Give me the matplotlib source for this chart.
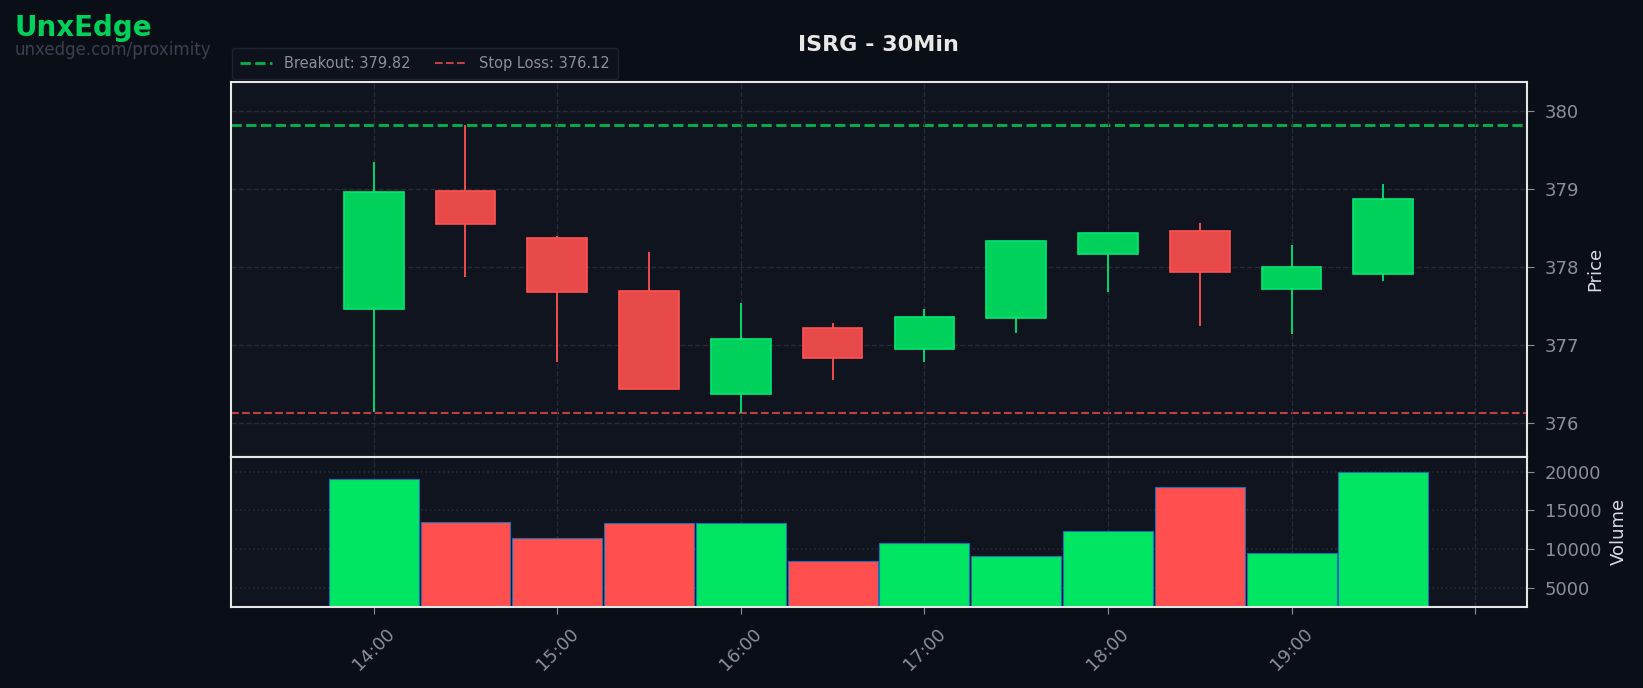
import matplotlib
matplotlib.use("Agg")
import matplotlib.pyplot as plt
import numpy as np

# 30 minute candles, ISRG
times = ["14:00", "14:30", "15:00", "15:30", "16:00", "16:30",
         "17:00", "17:30", "18:00", "18:30", "19:00", "19:30"]
opens = [377.46, 378.97, 378.36, 377.68, 376.36, 377.21,
         376.94, 377.34, 378.16, 378.45, 377.71, 377.90]
highs = [379.34, 379.81, 378.39, 378.19, 377.53, 377.27,
         377.46, 378.33, 378.43, 378.56, 378.27, 379.06]
lows = [376.14, 377.87, 376.77, 376.43, 376.12, 376.55,
        376.77, 377.15, 377.67, 377.24, 377.13, 377.81]
closes = [378.95, 378.55, 377.67, 376.43, 377.07, 376.83,
          377.35, 378.33, 378.43, 377.93, 377.99, 378.86]
volumes = [19050, 13480, 11400, 13350, 13350, 8420,
           10750, 9070, 12350, 18020, 9450, 19960]

breakout = 379.82
stop_loss = 376.12

BG = "#0a0e16"
PANEL = "#10141f"
GREEN_BODY = "#00d15a"
GREEN_EDGE = "#00e676"
RED_BODY = "#e84a4a"
RED_EDGE = "#ff5252"
TICK = "#8a8f99"
GRID = "#262b38"

fig = plt.figure(figsize=(16.43, 6.88), dpi=100, facecolor=BG)
ax = fig.add_axes([0.1403, 0.3360, 0.7888, 0.5453])
axv = fig.add_axes([0.1403, 0.1182, 0.7888, 0.2178], sharex=ax)

x = np.arange(len(times))
up = [c >= o for o, c in zip(opens, closes)]

#  Candles
for i in range(len(times)):
    body_c = GREEN_BODY if up[i] else RED_BODY
    edge_c = GREEN_EDGE if up[i] else RED_EDGE
    ax.vlines(x[i], lows[i], highs[i], color=edge_c, lw=1.3, zorder=2)
    lo = min(opens[i], closes[i])
    ax.bar(x[i], abs(closes[i] - opens[i]), bottom=lo, width=0.65,
           color=body_c, edgecolor=edge_c, linewidth=1.2, zorder=3)

ax.axhline(breakout, color="#00c853", ls="--", lw=2, alpha=0.9,
           label=f"Breakout: {breakout:.2f}", zorder=1)
ax.axhline(stop_loss, color="#e04848", ls="--", lw=1.5, alpha=0.85,
           label=f"Stop Loss: {stop_loss:.2f}", zorder=1)

#  Volume
vol_colors = ["#00e663" if u else "#ff4f4f" for u in up]
axv.bar(x, volumes, width=0.98, color=vol_colors, edgecolor="#1f6fb4",
        linewidth=0.8, zorder=2)

for a in (ax, axv):
    a.set_facecolor(PANEL)
    for s in a.spines.values():
        s.set_color("#e6e6e6")
        s.set_linewidth(1.5)
    a.yaxis.tick_right()
    a.yaxis.set_label_position("right")
    a.tick_params(colors=TICK, labelsize=13, length=5, pad=8)

ax.set_ylim(375.56, 380.37)
ax.set_yticks([376, 377, 378, 379, 380])
ax.set_xlim(-1.56, 12.56)
ax.grid(True, color=GRID, ls="--", lw=1)
ax.tick_params(axis="x", labelbottom=False)
ax.set_ylabel("Price", color="#d8dbe2", fontsize=13, labelpad=5)

axv.set_ylim(min(volumes) * 0.3, max(volumes) * 1.1)
axv.set_yticks([5000, 10000, 15000, 20000])
axv.grid(True, axis="y", color=GRID, ls=":", lw=1.2)
axv.grid(True, axis="x", color=GRID, ls="--", lw=1)
axv.set_ylabel("Volume", color="#d8dbe2", fontsize=13, labelpad=6)

tick_pos = list(range(0, 13, 2))
tick_lbl = times[::2] + [""]
axv.set_xticks(tick_pos)
axv.set_xticklabels(tick_lbl, rotation=45)

leg = ax.legend(loc="lower left", bbox_to_anchor=(0.0, 1.003), ncol=2,
                fontsize=10.5, frameon=True, borderaxespad=0.1,
                borderpad=0.55, columnspacing=1.7, handlelength=2.2)
leg.get_frame().set_facecolor(PANEL)
leg.get_frame().set_edgecolor("#232938")
for t in leg.get_texts():
    t.set_color(TICK)

ax.set_title("ISRG - 30Min", color="#e8e8e8", fontsize=16,
             fontweight="bold", pad=22)

fig.text(0.009, 0.960, "UnxEdge", color="#00d15a", fontsize=20,
         fontweight="bold", va="center")
fig.text(0.009, 0.927, "unxedge.com/proximity", color="#3a414f",
         fontsize=12, va="center")

fig.savefig("out.png", dpi=100, facecolor=BG)
